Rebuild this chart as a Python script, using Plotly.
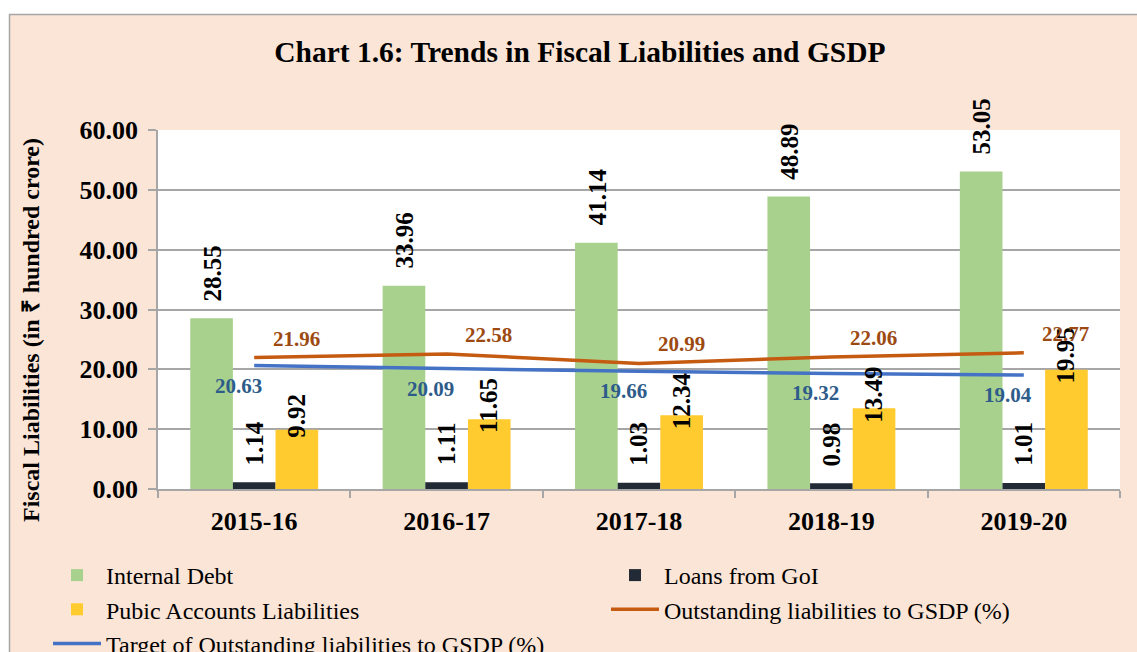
import plotly.graph_objects as go

years = ["2015-16", "2016-17", "2017-18", "2018-19", "2019-20"]
internal_debt = [28.55, 33.96, 41.14, 48.89, 53.05]
loans_goi = [1.14, 1.11, 1.03, 0.98, 1.01]
public_accounts = [9.92, 11.65, 12.34, 13.49, 19.95]
outstanding_gsdp = [21.96, 22.58, 20.99, 22.06, 22.77]
target_gsdp = [20.63, 20.09, 19.66, 19.32, 19.04]

SERIF = "Liberation Serif"
W, H = 1137, 652
ML, MR, MT, MB = 158, 17, 130, 163
PW = W - ML - MR
PH = H - MT - MB


def px_x(p):
    return (p - ML) / PW


def px_y(p):
    return (H - MB - p) / PH


fig = go.Figure()
fig.add_trace(go.Bar(name="Internal Debt", x=years, y=internal_debt,
                     marker=dict(color="#A9D18E", line=dict(width=0))))
fig.add_trace(go.Bar(name="Loans from GoI", x=years, y=loans_goi,
                     marker=dict(color="#222A35", line=dict(width=0))))
fig.add_trace(go.Bar(name="Pubic Accounts Liabilities", x=years, y=public_accounts,
                     marker=dict(color="#FFCB2F", line=dict(width=0))))
fig.add_trace(go.Scatter(name="Outstanding liabilities to GSDP (%)", x=years, y=outstanding_gsdp,
                         mode="lines", line=dict(color="#C55A11", width=3.5)))
fig.add_trace(go.Scatter(name="Target of Outstanding liabilities to GSDP (%)", x=years, y=target_gsdp,
                         mode="lines", line=dict(color="#4472C4", width=3.5)))

annotations = []
lab_font = dict(family=SERIF, size=25, color="black")
for yr, v in zip(years, internal_debt):
    annotations.append(dict(x=yr, y=v, text=f"<b>{v:.2f}</b>", showarrow=False, textangle=-90,
                            xshift=-42, yshift=15, yanchor="bottom", font=lab_font))
for yr, v in zip(years, loans_goi):
    annotations.append(dict(x=yr, y=v, text=f"<b>{v:.2f}</b>", showarrow=False, textangle=-90,
                            xshift=0, yshift=15, yanchor="bottom", font=lab_font))
for yr, v in zip(years, public_accounts):
    annotations.append(dict(x=yr, y=v, text=f"<b>{v:.2f}</b>", showarrow=False, textangle=-90,
                            xshift=42, yshift=14, yanchor="middle", font=lab_font))
for yr, v in zip(years, outstanding_gsdp):
    annotations.append(dict(x=yr, y=v, text=f"<b>{v:.2f}</b>", showarrow=False,
                            xshift=42, yshift=19, font=dict(family=SERIF, size=21, color="#9C4A12")))
for yr, v in zip(years, target_gsdp):
    annotations.append(dict(x=yr, y=v, text=f"<b>{v:.2f}</b>", showarrow=False,
                            xshift=-16, yshift=-20, font=dict(family=SERIF, size=21, color="#2E5C8A")))

annotations.append(dict(xref="paper", yref="paper", x=px_x(31), y=px_y(330),
                        xanchor="center", yanchor="middle",
                        text="<b>Fiscal Liabilities (in ₹ hundred crore)</b>", showarrow=False,
                        textangle=-90, font=dict(family=SERIF, size=24, color="black")))

shapes = [
    dict(type="rect", xref="paper", yref="paper", x0=px_x(9.5), x1=px_x(1145), y0=px_y(670), y1=px_y(14.5),
         fillcolor="#FBE5D6", line=dict(color="#A6A6A6", width=1.5), layer="below"),
    dict(type="rect", xref="paper", yref="paper", x0=0, x1=1, y0=0, y1=1,
         fillcolor="white", line=dict(width=0), layer="below"),
]

fig.update_layout(
    width=W, height=H,
    margin=dict(l=ML, r=MR, t=MT, b=MB, autoexpand=False),
    paper_bgcolor="white", plot_bgcolor="white",
    barmode="group", bargap=0.335, bargroupgap=0,
    title=dict(text="<b>Chart 1.6: Trends in Fiscal Liabilities and GSDP</b>", x=0.51, xanchor="center",
               xref="container", y=1 - 52 / H, yanchor="middle", yref="container",
               font=dict(family=SERIF, size=29.5, color="black")),
    xaxis=dict(showgrid=False, showline=True, linecolor="#A6A6A6", linewidth=1.5,
               ticks="outside", tickson="boundaries", ticklen=7, tickcolor="#A6A6A6", tickwidth=1.5,
               ticklabelstandoff=8,
               tickfont=dict(family=SERIF, size=26, color="black"), tickprefix="<b>", ticksuffix="</b>"),
    yaxis=dict(range=[0, 60], dtick=10, tickformat=".2f", showgrid=True, gridcolor="#A6A6A6", gridwidth=1.5,
               showline=True, linecolor="#A6A6A6", linewidth=1.5, ticks="outside", ticklen=8,
               tickcolor="#A6A6A6", tickwidth=1.5, zeroline=False, ticklabelstandoff=5,
               tickfont=dict(family=SERIF, size=26, color="black"), tickprefix="<b>", ticksuffix="</b>"),
    legend=dict(orientation="h", x=px_x(48), xanchor="left", y=px_y(553), yanchor="top",
                entrywidth=495, entrywidthmode="pixels", itemwidth=48, traceorder="normal",
                font=dict(family=SERIF, size=24, color="black"), bgcolor="rgba(0,0,0,0)"),
    annotations=annotations,
    shapes=shapes,
    showlegend=True,
)

fig.write_html("out.html", config={"displayModeBar": False},
               post_script="document.body.style.margin='0';")
